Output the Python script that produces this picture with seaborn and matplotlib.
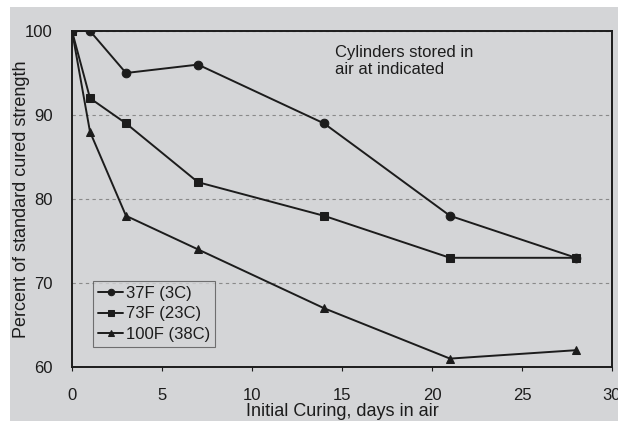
import matplotlib
matplotlib.use("Agg")
import matplotlib.pyplot as plt
import seaborn as sns
import pandas as pd
from matplotlib.patches import Rectangle

days = [0, 1, 3, 7, 14, 21, 28]
s37 = [100, 100, 95, 96, 89, 78, 73]
s73 = [100, 92, 89, 82, 78, 73, 73]
s100 = [100, 88, 78, 74, 67, 61, 62]
series_names = ["37F (3C)", "73F (23C)", "100F (38C)"]
xticks = [0, 5, 10, 15, 20, 25, 30]
yticks = [60, 70, 80, 90, 100]

rows = []
for name, vals in zip(series_names, [s37, s73, s100]):
    for d, v in zip(days, vals):
        rows.append({"days": d, "strength": v, "series": name})
df = pd.DataFrame(rows)

sns.set_theme(style="ticks")
plt.rcParams["font.family"] = ["Liberation Sans", "DejaVu Sans"]

bg = "#d4d5d7"
ink = "#1c1c1c"
fig = plt.figure(figsize=(6.18, 4.21), dpi=100, facecolor="white")
fig.patches.append(Rectangle((10/618, 0), 1, 1 - 7/421, transform=fig.transFigure,
                             facecolor=bg, edgecolor="none", zorder=-10))
ax = fig.add_axes([72/618, 1 - 367/421, 540/618, 336/421])
ax.set_facecolor(bg)

sns.lineplot(data=df, x="days", y="strength", hue="series", style="series",
             markers=["o", "s", "^"], dashes=False, palette=[ink]*3,
             markersize=6.2, linewidth=1.4, markeredgecolor=ink,
             ax=ax, legend=True)

ax.set_xlim(0, 30)
ax.set_ylim(60, 100)
ax.set_xticks(xticks)
ax.set_yticks(yticks)
ax.tick_params(axis="x", length=3, width=0.8, labelsize=12, pad=12, colors=ink)
ax.tick_params(axis="y", length=0, labelsize=12, pad=14, colors=ink)
for sp in ax.spines.values():
    sp.set_visible(True)
    sp.set_color(ink)
    sp.set_linewidth(1.4)
ax.yaxis.grid(True, linestyle=(0, (3, 3)), color="#8a8a8a", linewidth=0.8)
ax.set_axisbelow(True)

ax.set_xlabel("Initial Curing, days in air", fontsize=13, color=ink)
ax.set_ylabel("Percent of standard cured strength", fontsize=13, color=ink)
ax.xaxis.set_label_coords(0.5, -0.108)
ax.yaxis.set_label_coords(-0.078, 0.5)

ax.text(0.487, 0.957, "Cylinders stored in\nair at indicated", transform=ax.transAxes,
        fontsize=12, va="top", ha="left", color=ink, linespacing=1.15)

leg = ax.legend(loc="lower left", bbox_to_anchor=(0.039, 0.06), borderaxespad=0,
                frameon=True, fontsize=12, handlelength=1.5, handletextpad=0.15,
                borderpad=0.3, labelspacing=0.33, fancybox=False, title=None,
                markerscale=0.75)
leg.get_frame().set_facecolor(bg)
leg.get_frame().set_edgecolor("#555555")
leg.get_frame().set_linewidth(0.8)
for t in leg.get_texts():
    t.set_color(ink)

fig.savefig("out.png", dpi=100, facecolor="white")
